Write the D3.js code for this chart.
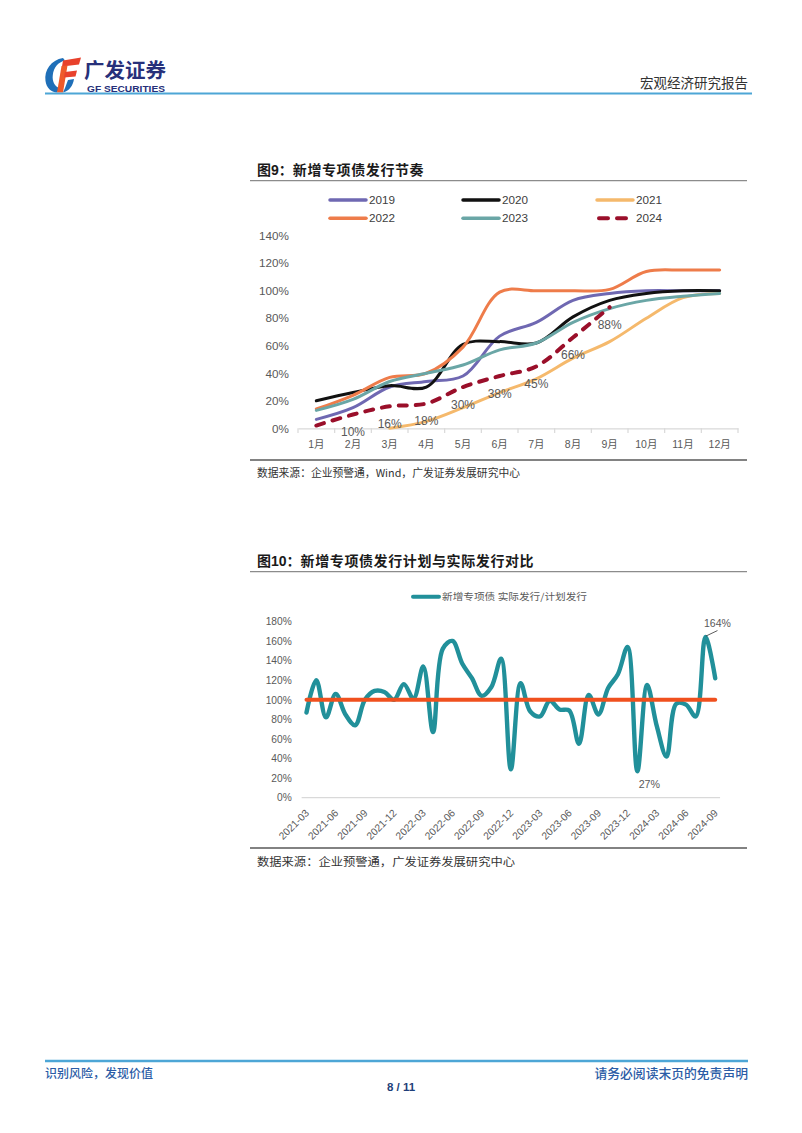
<!DOCTYPE html>
<html><head><meta charset="utf-8">
<script src="https://cdn.jsdelivr.net/npm/d3@7"></script>
<style>
body{margin:0;background:#fff;}
svg{display:block;font-family:"Liberation Sans",Arial,"Noto Sans CJK SC",sans-serif;}
</style></head><body>
<svg id="c" width="802" height="1133"></svg>
<script>
// ---------- Chart 1 data: 新增专项债发行节奏 (cumulative % of annual quota) ----------
const months = ["1月","2月","3月","4月","5月","6月","7月","8月","9月","10月","11月","12月"];
const pctTicks1 = [0,20,40,60,80,100,120,140];
const v2019 = [6.5,15,30,34,38,67,77,93,98,100,100,100];
const v2020 = [20,26,31,30,61,63,62,81,93,98,100,100];
const v2021 = [null,null,0,5,15,26,36,51,63,80,95,98];
const v2022 = [14,24,37,40,59,99,100,100,101,114,115,115];
const v2023 = [13,21,34,40,46,57,62,77,87,93,96,98];
const v2024 = [2,10,16,18,30,38,45,66,88];
const seriesNames1 = ["2019","2020","2021","2022","2023","2024"];

// ---------- Chart 2 data: 实际发行/计划发行 ----------
const periods = ["2021-03","2021-04","2021-05","2021-06","2021-07","2021-08","2021-09","2021-10","2021-11","2021-12",
"2022-01","2022-02","2022-03","2022-04","2022-05","2022-06","2022-07","2022-08","2022-09","2022-10","2022-11","2022-12",
"2023-01","2023-02","2023-03","2023-04","2023-05","2023-06","2023-07","2023-08","2023-09","2023-10","2023-11","2023-12",
"2024-01","2024-02","2024-03","2024-04","2024-05","2024-06","2024-07","2024-08","2024-09"];
const ratio = [87,120,82,106,85,74,100,109,108,100,116,101,134,67,152,160,137,122,104,113,142,29,
117,88,83,99,90,89,55,105,85,112,126,154,27,115,73,42,96,95,83,164,122];
const planLevel = 100;
const tickLabels2 = ["2021-03","2021-06","2021-09","2021-12","2022-03","2022-06","2022-09","2022-12",
"2023-03","2023-06","2023-09","2023-12","2024-03","2024-06","2024-09"];
const pctTicks2 = [0,20,40,60,80,100,120,140,160,180];
const annotated2 = ["2024-01","2024-08"];

const CJK = '"Noto Sans CJK SC",sans-serif';
const LAT = '"Liberation Sans",Arial,"Noto Sans CJK SC",sans-serif';
const svg = d3.select("#c");

// ---------- Header ----------
svg.append("path").attr("d","M63,58 C51,60 44,70 45.5,81 C46.5,88 51,92 57,92.5 L59.5,88 C54.5,86.5 52,81 52.8,75 C53.8,67 58,62.5 65,60.5 Z").attr("fill","#1f6fb8");
svg.append("path").attr("d","M63,60.5 L81,57.5 L79,64.5 L62,66.5 Z").attr("fill","#e8412c");
svg.append("path").attr("d","M61.5,66 L67.5,65.5 L63,92.5 L57,92.5 Z").attr("fill","#ee5a2a");
svg.append("path").attr("d","M65,72 L77,70.5 L75.5,76.5 L64,77.5 Z").attr("fill","#e8412c");
svg.append("path").attr("d","M68,80 L74,79 C73,86 69,91 63,92.5 L65,88 Z").attr("fill","#1f6fb8");
svg.append("text").attr("x",84).attr("y",78).attr("font-family",CJK).attr("font-weight",700)
  .attr("font-size",20).attr("fill","#27307a").attr("textLength",82).attr("lengthAdjust","spacingAndGlyphs").text("广发证券");
svg.append("text").attr("x",87).attr("y",91.5).attr("font-family",LAT).attr("font-weight",700)
  .attr("font-size",8.5).attr("fill","#27307a").attr("textLength",78).attr("lengthAdjust","spacingAndGlyphs").text("GF SECURITIES");
svg.append("text").attr("x",748).attr("y",88).attr("text-anchor","end").attr("font-family",CJK)
  .attr("font-size",13.5).attr("fill","#333").text("宏观经济研究报告");
svg.append("line").attr("x1",45).attr("x2",752).attr("y1",93.5).attr("y2",93.5).attr("stroke","#4da6d6").attr("stroke-width",2);

// ---------- Titles helper ----------
function title(y, num, rest){
  const t = svg.append("text").attr("x",257).attr("y",y).attr("font-size",14).attr("font-weight",700).attr("fill","#1a1a1a");
  t.append("tspan").attr("font-family",CJK).text("图");
  t.append("tspan").attr("font-family",LAT).text(num);
  t.append("tspan").attr("font-family",CJK).text("：");
  t.append("tspan").attr("font-family",CJK).attr("letter-spacing",0.6).text(rest);
  svg.append("line").attr("x1",250).attr("x2",747).attr("y1",y+5.7).attr("y2",y+5.7).attr("stroke","#8c8c8c").attr("stroke-width",1.2);
}
title(175,"9","新增专项债发行节奏");
title(566,"10","新增专项债发行计划与实际发行对比");

// ---------- Chart 1 ----------
const x1 = d3.scaleBand().domain(months).range([298,738]);
const y1 = d3.scaleLinear().domain([0,140]).range([428.3,235.7]);
const g1 = svg.append("g");

const ya1 = g1.append("g").attr("transform","translate(289,0)")
  .call(d3.axisLeft(y1).tickValues(pctTicks1).tickFormat(d=>d+"%").tickSize(0).tickPadding(0));
ya1.select(".domain").remove();
ya1.selectAll("text").attr("font-family",LAT).attr("font-size",11.7).attr("fill","#595959");

const xa1 = g1.append("g").attr("transform","translate(0,428.3)")
  .call(d3.axisBottom(x1).tickSize(0).tickSizeOuter(0).tickPadding(12.7));
xa1.select(".domain").attr("stroke","#d9d9d9").attr("stroke-width",1.2);
xa1.selectAll("text").attr("font-family",LAT).attr("font-size",10.5).attr("fill","#595959");
g1.selectAll("line.bt").data(d3.range(months.length+1)).join("line").attr("class","bt")
  .attr("x1",k=>x1.range()[0]+k*x1.step()).attr("x2",k=>x1.range()[0]+k*x1.step())
  .attr("y1",428.3).attr("y2",433).attr("stroke","#d9d9d9").attr("stroke-width",1.2);

const series1 = [
  {name:"2019",vals:v2019,color:"#6f68b2",dash:null,w:3},
  {name:"2020",vals:v2020,color:"#111111",dash:null,w:3},
  {name:"2021",vals:v2021,color:"#f5b96c",dash:null,w:3},
  {name:"2022",vals:v2022,color:"#ee7c4a",dash:null,w:3},
  {name:"2023",vals:v2023,color:"#6aa6a6",dash:null,w:3},
  {name:"2024",vals:v2024,color:"#9a0f2a",dash:"8,9",w:4}
];
const line1 = d3.line().defined(d=>d.v!=null)
  .x(d=>x1(d.m)+x1.bandwidth()/2).y(d=>y1(d.v)).curve(d3.curveCatmullRom.alpha(0.5));
series1.forEach(s=>{
  const pts = s.vals.map((v,i)=>({m:months[i],v:v}));
  g1.append("path").datum(pts.filter(d=>d.v!=null)).attr("d",line1).attr("fill","none")
    .attr("stroke",s.color).attr("stroke-width",s.w).attr("stroke-linecap","round").attr("stroke-linejoin","round")
    .attr("stroke-dasharray",s.dash);
});
// 2024 data labels
g1.selectAll("text.dl").data(v2024.map((v,i)=>({m:months[i],v:v})).slice(1)).join("text").attr("class","dl")
  .attr("x",d=>x1(d.m)+x1.bandwidth()/2).attr("y",d=>y1(d.v)+21.5).attr("text-anchor","middle")
  .attr("font-family",LAT).attr("font-size",12).attr("fill","#595959").text(d=>d.v+"%");

// legend 1
const legX = [330,463,597], legY = [200,218.3];
series1.forEach((s,i)=>{
  const lx = legX[i%3], ly = legY[Math.floor(i/3)];
  if(s.dash){
    g1.append("line").attr("x1",lx+2).attr("x2",lx+34).attr("y1",ly).attr("y2",ly).attr("stroke",s.color)
      .attr("stroke-width",4).attr("stroke-linecap","round").attr("stroke-dasharray","9,9");
  } else {
    g1.append("line").attr("x1",lx).attr("x2",lx+36).attr("y1",ly).attr("y2",ly).attr("stroke",s.color)
      .attr("stroke-width",3.5).attr("stroke-linecap","round");
  }
  g1.append("text").attr("x",lx+39).attr("y",ly).attr("dy","0.35em").attr("font-family",LAT)
    .attr("font-size",11.7).attr("fill","#404040").text(s.name);
});

svg.append("line").attr("x1",250).attr("x2",747).attr("y1",460).attr("y2",460).attr("stroke","#595959").attr("stroke-width",1.3);
svg.append("text").attr("x",257).attr("y",477).attr("font-family",CJK).attr("font-size",11).attr("fill","#333")
  .attr("textLength",263).attr("lengthAdjust","spacingAndGlyphs").text("数据来源：企业预警通，Wind，广发证券发展研究中心");

// ---------- Chart 2 ----------
const x2 = d3.scalePoint().domain(periods).range([306.5,715.2]);
const y2 = d3.scaleLinear().domain([0,180]).range([797.7,621.4]);
const g2 = svg.append("g");

const ya2 = g2.append("g").attr("transform","translate(291.7,0)")
  .call(d3.axisLeft(y2).tickValues(pctTicks2).tickFormat(d=>d+"%").tickSize(0).tickPadding(0));
ya2.select(".domain").remove();
ya2.selectAll("text").attr("font-family",LAT).attr("font-size",10.2).attr("fill","#595959");

const half = x2.step()/2;
g2.append("line").attr("x1",x2.range()[0]-half).attr("x2",x2.range()[1]+half).attr("y1",797.7).attr("y2",797.7)
  .attr("stroke","#d9d9d9").attr("stroke-width",1.2);
const xa2 = g2.append("g").attr("transform","translate(0,797.7)")
  .call(d3.axisBottom(x2).tickValues(tickLabels2).tickSize(0));
xa2.select(".domain").remove();
xa2.selectAll("text").attr("y",0).attr("dy",0).attr("text-anchor","end")
  .attr("transform","translate(2.8,15.9) rotate(-45)")
  .attr("font-family",LAT).attr("font-size",10.3).attr("fill","#595959");

const line2 = d3.line().x(d=>x2(d.p)).y(d=>y2(d.v)).curve(d3.curveCatmullRom.alpha(0.5));
g2.append("path").datum(ratio.map((v,i)=>({p:periods[i],v:v}))).attr("d",line2).attr("fill","none")
  .attr("stroke","#21909a").attr("stroke-width",4.4).attr("stroke-linecap","round").attr("stroke-linejoin","round");
g2.append("line").attr("x1",x2(periods[0])).attr("x2",x2(periods[periods.length-1]))
  .attr("y1",y2(planLevel)).attr("y2",y2(planLevel)).attr("stroke","#f0501e").attr("stroke-width",4).attr("stroke-linecap","round");

// annotations
const pMin = annotated2[0], vMin = ratio[periods.indexOf(pMin)];
g2.append("text").attr("x",x2(pMin)+12).attr("y",y2(vMin)+17).attr("text-anchor","middle")
  .attr("font-family",LAT).attr("font-size",10.7).attr("fill","#595959").text(vMin+"%");
const pMax = annotated2[1], vMax = ratio[periods.indexOf(pMax)];
g2.append("line").attr("x1",x2(pMax)+0.5).attr("y1",y2(vMax)-1).attr("x2",x2(pMax)+12).attr("y2",y2(vMax)-6.5)
  .attr("stroke","#333").attr("stroke-width",0.8);
g2.append("text").attr("x",x2(pMax)+12).attr("y",y2(vMax)-10).attr("text-anchor","middle")
  .attr("font-family",LAT).attr("font-size",10.5).attr("fill","#595959").text(vMax+"%");

// legend 2
g2.append("line").attr("x1",413).attr("x2",439).attr("y1",596.7).attr("y2",596.7).attr("stroke","#21909a")
  .attr("stroke-width",4).attr("stroke-linecap","round");
g2.append("text").attr("x",442).attr("y",600.2).attr("font-family",CJK).attr("font-size",9.5).attr("fill","#595959")
  .attr("textLength",145).attr("lengthAdjust","spacingAndGlyphs").text("新增专项债 实际发行/计划发行");

svg.append("line").attr("x1",250).attr("x2",747).attr("y1",848).attr("y2",848).attr("stroke","#595959").attr("stroke-width",1.3);
svg.append("text").attr("x",257).attr("y",866).attr("font-family",CJK).attr("font-size",11).attr("fill","#333")
  .attr("textLength",258).attr("lengthAdjust","spacingAndGlyphs").text("数据来源：企业预警通，广发证券发展研究中心");

// ---------- Footer ----------
svg.append("line").attr("x1",45).attr("x2",748).attr("y1",1061).attr("y2",1061).attr("stroke","#4da6d6").attr("stroke-width",2.5);
svg.append("text").attr("x",45).attr("y",1078).attr("font-family",CJK).attr("font-size",12).attr("font-weight",500)
  .attr("fill","#2b5ca6").text("识别风险，发现价值");
svg.append("text").attr("x",748).attr("y",1078).attr("text-anchor","end").attr("font-family",CJK).attr("font-size",12.8)
  .attr("font-weight",500).attr("fill","#2b5ca6").text("请务必阅读末页的免责声明");
svg.append("text").attr("x",401).attr("y",1091).attr("text-anchor","middle").attr("font-family",LAT).attr("font-size",11.5)
  .attr("font-weight",700).attr("fill","#1f3f7a").text("8 / 11");
</script>
</body></html>
